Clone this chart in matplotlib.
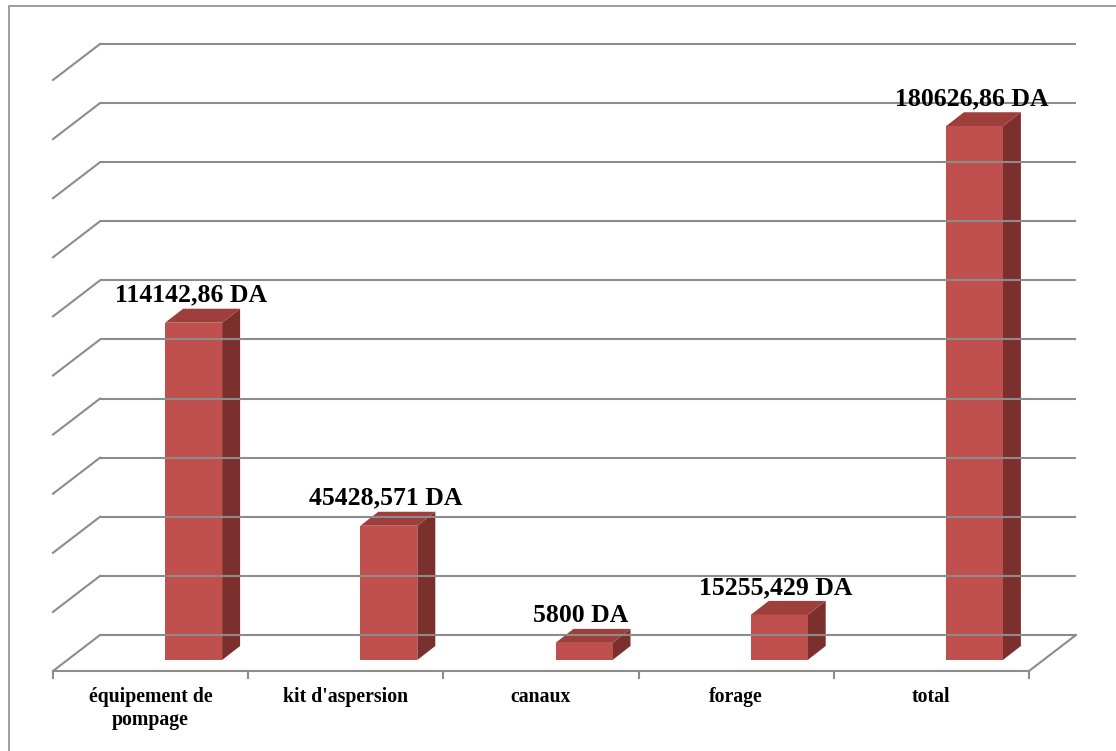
import matplotlib.pyplot as plt
from matplotlib.patches import Polygon, Rectangle

categories = ["équipement de\npompage", "kit d'aspersion", "canaux", "forage", "total"]
values = [114142.86, 45428.571, 5800, 15255.429, 180626.86]
value_labels = ["114142,86 DA", "45428,571 DA", "5800 DA", "15255,429 DA", "180626,86 DA"]
grid_values = list(range(0, 200001, 20000))

W, H = 1116, 751
fig = plt.figure(figsize=(W / 100, H / 100), dpi=100)

# plot area in pixels: x 53..1029 for 5 categories, value 0 at y=660, 200000 at y=69
px_x0, px_x1 = 53, 1029
px_y0, px_ytop = 660, 69
ax = fig.add_axes([px_x0 / W, (H - px_y0) / H, (px_x1 - px_x0) / W, (px_y0 - px_ytop) / H])
ax.set_xlim(0, 5)
ax.set_ylim(0, 200000)
ax.axis("off")

upx = 5 / (px_x1 - px_x0)          # x units per pixel
vpx = 200000 / (px_y0 - px_ytop)   # value units per pixel

grid_col = "#8c8c8c"
lw = 1.5

# floor / wall geometry (depth offsets in pixels)
wall_dx, wall_dy = 47 * upx, 25 * vpx
front_dy = -11 * vpx

# back wall gridlines + left wall diagonals
for g in grid_values:
    ax.plot([wall_dx, 5 + wall_dx], [g + wall_dy, g + wall_dy], color=grid_col, lw=lw,
            clip_on=False, solid_capstyle="butt")
    ax.plot([0, wall_dx], [g + front_dy, g + wall_dy], color=grid_col, lw=lw, clip_on=False)

# floor front and right edges
ax.plot([0, 5], [front_dy, front_dy], color=grid_col, lw=lw, clip_on=False)
ax.plot([5, 5 + wall_dx], [front_dy, wall_dy], color=grid_col, lw=lw, clip_on=False)

# tick marks
for i in range(6):
    ax.plot([i, i], [front_dy, front_dy - 7 * vpx], color=grid_col, lw=lw, clip_on=False)

# bars
bw = 57 * upx
shift = 43 * upx
bdx, bdy = 18 * upx, 14 * vpx
face = "#c0504d"
top_col = "#9e3f3c"
side_col = "#7c302e"
for i, v in enumerate(values):
    x0 = i + 0.5 + shift - bw / 2
    x1 = x0 + bw
    ax.add_patch(Polygon([[x1, 0], [x1 + bdx, bdy], [x1 + bdx, v + bdy], [x1, v]],
                         closed=True, fc=side_col, ec="none", clip_on=False))
    ax.add_patch(Polygon([[x0, v], [x1, v], [x1 + bdx, v + bdy], [x0 + bdx, v + bdy]],
                         closed=True, fc=top_col, ec="none", clip_on=False))
    ax.add_patch(Rectangle((x0, 0), bw, v, fc=face, ec="none", clip_on=False))
    ax.text(i + 0.5 + shift - 3 * upx, v + bdy + 2 * vpx, value_labels[i], ha="center",
            va="bottom", fontsize=18.5, fontweight="bold", family="Liberation Serif",
            clip_on=False)

# category labels
for i, c in enumerate(categories):
    ax.text(i + 0.5, front_dy - 16 * vpx, c, ha="center", va="top", fontsize=14.2,
            fontweight="bold", family="Liberation Serif", linespacing=1.2, clip_on=False)

# chart border (only left and top edges fall inside the picture)
fig.patches.append(Rectangle((9 / W, -10 / H), 1130 / W, 755 / H, transform=fig.transFigure,
                             fill=False, ec="#8c8c8c", lw=1.2))

fig.savefig("out.png", dpi=100)
